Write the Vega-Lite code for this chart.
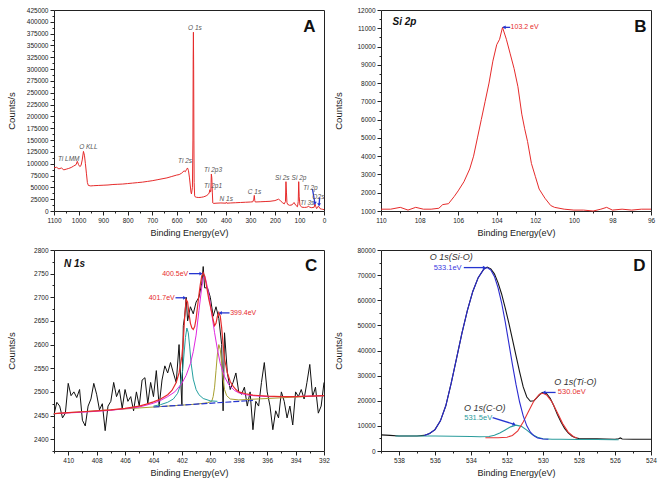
{
  "$schema": "https://vega.github.io/schema/vega-lite/v6.json",
  "background": "white",
  "padding": {"left": 5, "top": 6, "right": 4, "bottom": 2},
  "columns": 2,
  "spacing": {"row": 39, "column": 57},
  "bounds": "flush",
  "datasets": {
    "survey": [
      {"e":1100,"c":91000},{"e":1090,"c":92500},{"e":1080,"c":89000},{"e":1070,"c":91000},{"e":1060,"c":87000},{"e":1050,"c":88500},{"e":1040,"c":90000},{"e":1030,"c":92000},{"e":1020,"c":95000},{"e":1010,"c":98000},{"e":1005,"c":105000},{"e":1000,"c":98000},{"e":995,"c":94000},{"e":990,"c":96000},{"e":985,"c":108000},{"e":980,"c":126000},{"e":976,"c":118000},{"e":972,"c":100000},{"e":968,"c":80000},{"e":964,"c":60000},{"e":960,"c":54000},{"e":950,"c":53000},{"e":940,"c":53500},{"e":920,"c":54000},{"e":900,"c":54500},{"e":880,"c":55000},{"e":860,"c":56000},{"e":840,"c":56500},{"e":820,"c":57000},{"e":800,"c":58000},{"e":780,"c":59000},{"e":760,"c":60000},{"e":740,"c":61000},{"e":720,"c":62500},{"e":700,"c":64000},{"e":680,"c":66000},{"e":660,"c":68000},{"e":640,"c":70000},{"e":620,"c":73000},{"e":600,"c":76000},{"e":590,"c":77000},{"e":580,"c":80000},{"e":570,"c":85000},{"e":565,"c":83000},{"e":560,"c":88000},{"e":556,"c":91000},{"e":552,"c":85000},{"e":548,"c":70000},{"e":545,"c":55000},{"e":542,"c":40000},{"e":540,"c":36000},{"e":536,"c":50000},{"e":534,"c":150000},{"e":533,"c":320000},{"e":532,"c":378000},{"e":531,"c":300000},{"e":530,"c":150000},{"e":529,"c":60000},{"e":527,"c":32000},{"e":525,"c":30000},{"e":520,"c":29000},{"e":510,"c":28500},{"e":500,"c":29000},{"e":490,"c":30000},{"e":480,"c":32000},{"e":472,"c":35000},{"e":468,"c":38000},{"e":465,"c":45000},{"e":463,"c":40000},{"e":461,"c":42000},{"e":460,"c":60000},{"e":459,"c":78000},{"e":457,"c":70000},{"e":455,"c":40000},{"e":453,"c":17000},{"e":450,"c":16000},{"e":440,"c":16500},{"e":420,"c":17000},{"e":400,"c":16500},{"e":398,"c":18500},{"e":396,"c":16500},{"e":380,"c":17000},{"e":360,"c":17500},{"e":340,"c":18000},{"e":320,"c":18500},{"e":300,"c":19000},{"e":290,"c":19500},{"e":286,"c":25000},{"e":284,"c":33000},{"e":282,"c":22000},{"e":280,"c":19000},{"e":260,"c":19500},{"e":240,"c":20000},{"e":220,"c":20500},{"e":200,"c":22000},{"e":185,"c":25000},{"e":178,"c":22000},{"e":170,"c":18000},{"e":162,"c":15000},{"e":157,"c":20000},{"e":155,"c":62000},{"e":153,"c":40000},{"e":151,"c":18000},{"e":148,"c":14000},{"e":140,"c":12000},{"e":130,"c":13000},{"e":122,"c":18000},{"e":115,"c":12000},{"e":108,"c":9000},{"e":105,"c":20000},{"e":103,"c":62000},{"e":101,"c":30000},{"e":98,"c":12000},{"e":90,"c":8000},{"e":80,"c":7500},{"e":70,"c":8000},{"e":62,"c":10000},{"e":58,"c":8000},{"e":50,"c":7000},{"e":40,"c":8000},{"e":37,"c":15000},{"e":34,"c":10000},{"e":30,"c":5000},{"e":24,"c":10000},{"e":21,"c":9000},{"e":16,"c":5000},{"e":10,"c":4000},{"e":5,"c":3500},{"e":0,"c":3000}
    ],
    "surveyLabels": [
      {"e":1040,"c":109000,"t":"Ti LMM"},{"e":960,"c":135000,"t":"O KLL"},{"e":526,"c":387000,"t":"O 1s"},{"e":566,"c":106000,"t":"Ti 2s"},{"e":452,"c":87000,"t":"Ti 2p3"},{"e":452,"c":52000,"t":"Ti 2p1"},{"e":398,"c":25000,"t":"N 1s"},{"e":283,"c":41000,"t":"C 1s"},{"e":170,"c":69000,"t":"Si 2s"},{"e":102,"c":69000,"t":"Si 2p"},{"e":55,"c":49500,"t":"Ti 2p"},{"e":68,"c":17500,"t":"Ti 3s"},{"e":38,"c":30000,"t":"O"},{"e":12,"c":30000,"t":"2s"}
    ],
    "surveyArrows": [
      {"e":37,"c":16000,"e2":47,"c2":46500},{"e":20,"c":13000,"e2":17.6,"c2":29000}
    ],
    "si": [
      {"e":110,"c":1100},{"e":109.5,"c":1100},{"e":109,"c":1200},{"e":108.6,"c":1050},{"e":108.2,"c":1200},{"e":107.8,"c":1100},{"e":107.4,"c":1100},{"e":107,"c":1150},{"e":106.8,"c":1350},{"e":106.5,"c":1400},{"e":106.2,"c":1800},{"e":106,"c":2100},{"e":105.7,"c":2600},{"e":105.4,"c":3300},{"e":105.2,"c":4000},{"e":105,"c":5000},{"e":104.8,"c":6000},{"e":104.6,"c":7000},{"e":104.4,"c":8000},{"e":104.2,"c":9200},{"e":104,"c":10100},{"e":103.85,"c":10400},{"e":103.7,"c":11050},{"e":103.5,"c":10400},{"e":103.3,"c":9600},{"e":103.1,"c":8800},{"e":102.9,"c":7800},{"e":102.7,"c":6300},{"e":102.55,"c":5500},{"e":102.4,"c":4800},{"e":102.2,"c":3600},{"e":102,"c":2900},{"e":101.8,"c":2200},{"e":101.5,"c":1700},{"e":101.2,"c":1300},{"e":101,"c":1200},{"e":100.5,"c":1100},{"e":100,"c":1050},{"e":99.5,"c":1050},{"e":99,"c":1000},{"e":98.6,"c":1100},{"e":98.3,"c":1200},{"e":98,"c":1050},{"e":97.5,"c":1100},{"e":97,"c":1050},{"e":96.5,"c":1100},{"e":96,"c":1100}
    ],
    "nraw": [
      {"e":411,"c":2452},{"e":410.8,"c":2478},{"e":410.6,"c":2470},{"e":410.4,"c":2445},{"e":410.2,"c":2455},{"e":410,"c":2518},{"e":409.8,"c":2492},{"e":409.6,"c":2500},{"e":409.4,"c":2488},{"e":409.2,"c":2505},{"e":409,"c":2440},{"e":408.8,"c":2428},{"e":408.6,"c":2470},{"e":408.4,"c":2485},{"e":408.2,"c":2518},{"e":408,"c":2495},{"e":407.8,"c":2462},{"e":407.6,"c":2475},{"e":407.4,"c":2418},{"e":407.2,"c":2470},{"e":407,"c":2480},{"e":406.8,"c":2520},{"e":406.6,"c":2490},{"e":406.4,"c":2505},{"e":406.2,"c":2465},{"e":406,"c":2505},{"e":405.8,"c":2480},{"e":405.6,"c":2490},{"e":405.4,"c":2460},{"e":405.2,"c":2500},{"e":405,"c":2470},{"e":404.8,"c":2525},{"e":404.6,"c":2530},{"e":404.4,"c":2475},{"e":404.2,"c":2520},{"e":404,"c":2490},{"e":403.8,"c":2545},{"e":403.6,"c":2470},{"e":403.4,"c":2525},{"e":403.2,"c":2555},{"e":403,"c":2540},{"e":402.8,"c":2562},{"e":402.6,"c":2540},{"e":402.4,"c":2520},{"e":402.2,"c":2600},{"e":402,"c":2472},{"e":401.9,"c":2640},{"e":401.8,"c":2660},{"e":401.7,"c":2700},{"e":401.6,"c":2650},{"e":401.4,"c":2680},{"e":401.2,"c":2665},{"e":401,"c":2690},{"e":400.8,"c":2700},{"e":400.6,"c":2730},{"e":400.5,"c":2765},{"e":400.4,"c":2720},{"e":400.2,"c":2720},{"e":400,"c":2700},{"e":399.8,"c":2660},{"e":399.6,"c":2680},{"e":399.4,"c":2655},{"e":399.2,"c":2600},{"e":399.1,"c":2460},{"e":399,"c":2625},{"e":398.8,"c":2540},{"e":398.6,"c":2505},{"e":398.4,"c":2520},{"e":398.2,"c":2540},{"e":398,"c":2500},{"e":397.8,"c":2495},{"e":397.6,"c":2510},{"e":397.4,"c":2470},{"e":397.2,"c":2500},{"e":397,"c":2420},{"e":396.8,"c":2480},{"e":396.6,"c":2470},{"e":396.4,"c":2520},{"e":396.2,"c":2562},{"e":396,"c":2500},{"e":395.8,"c":2470},{"e":395.6,"c":2420},{"e":395.4,"c":2460},{"e":395.2,"c":2445},{"e":395,"c":2500},{"e":394.8,"c":2480},{"e":394.6,"c":2445},{"e":394.4,"c":2470},{"e":394.2,"c":2430},{"e":394,"c":2500},{"e":393.8,"c":2490},{"e":393.6,"c":2505},{"e":393.4,"c":2485},{"e":393.2,"c":2520},{"e":393,"c":2558},{"e":392.8,"c":2490},{"e":392.6,"c":2510},{"e":392.4,"c":2455},{"e":392.2,"c":2470},{"e":392,"c":2520}
    ],
    "nolive": [
      {"e":411,"c":2454},{"e":405,"c":2466},{"e":402,"c":2472},{"e":401,"c":2474},{"e":400.2,"c":2477},{"e":399.9,"c":2480},{"e":399.8,"c":2490},{"e":399.7,"c":2510},{"e":399.6,"c":2545},{"e":399.5,"c":2580},{"e":399.4,"c":2600},{"e":399.3,"c":2590},{"e":399.2,"c":2560},{"e":399.1,"c":2528},{"e":399,"c":2505},{"e":398.85,"c":2492},{"e":398.6,"c":2485},{"e":398,"c":2483},{"e":396,"c":2486},{"e":394,"c":2489},{"e":392,"c":2492}
    ],
    "nbase": [
      {"e":404,"c":2468},{"e":397,"c":2482}
    ],
    "ncyan": [
      {"e":404,"c":2470},{"e":403.5,"c":2473},{"e":403,"c":2478},{"e":402.6,"c":2485},{"e":402.3,"c":2497},{"e":402.1,"c":2515},{"e":401.95,"c":2545},{"e":401.85,"c":2580},{"e":401.75,"c":2615},{"e":401.65,"c":2635},{"e":401.55,"c":2625},{"e":401.45,"c":2595},{"e":401.35,"c":2560},{"e":401.2,"c":2527},{"e":401,"c":2505},{"e":400.8,"c":2494},{"e":400.5,"c":2486},{"e":400,"c":2481},{"e":399.5,"c":2480}
    ],
    "nmag": [
      {"e":411,"c":2454},{"e":409,"c":2457},{"e":407,"c":2461},{"e":405,"c":2468},{"e":404,"c":2476},{"e":403.5,"c":2482},{"e":403,"c":2490},{"e":402.5,"c":2500},{"e":402,"c":2518},{"e":401.7,"c":2535},{"e":401.4,"c":2560},{"e":401.2,"c":2585},{"e":401,"c":2620},{"e":400.8,"c":2672},{"e":400.6,"c":2722},{"e":400.5,"c":2740},{"e":400.4,"c":2745},{"e":400.3,"c":2735},{"e":400.1,"c":2705},{"e":399.9,"c":2665},{"e":399.7,"c":2625},{"e":399.5,"c":2590},{"e":399.3,"c":2560},{"e":399,"c":2532},{"e":398.7,"c":2515},{"e":398.3,"c":2503},{"e":398,"c":2498},{"e":397.5,"c":2494},{"e":397,"c":2492},{"e":396,"c":2490},{"e":394,"c":2490},{"e":392,"c":2492}
    ],
    "nfit": [
      {"e":411,"c":2454},{"e":410,"c":2456},{"e":409,"c":2458},{"e":408,"c":2460},{"e":407,"c":2462},{"e":406,"c":2465},{"e":405,"c":2470},{"e":404.5,"c":2474},{"e":404,"c":2479},{"e":403.5,"c":2485},{"e":403,"c":2494},{"e":402.7,"c":2503},{"e":402.4,"c":2520},{"e":402.2,"c":2540},{"e":402,"c":2575},{"e":401.9,"c":2610},{"e":401.8,"c":2660},{"e":401.7,"c":2695},{"e":401.6,"c":2690},{"e":401.5,"c":2665},{"e":401.4,"c":2645},{"e":401.3,"c":2635},{"e":401.2,"c":2632},{"e":401.1,"c":2638},{"e":401,"c":2655},{"e":400.9,"c":2680},{"e":400.8,"c":2705},{"e":400.7,"c":2728},{"e":400.6,"c":2745},{"e":400.5,"c":2752},{"e":400.4,"c":2745},{"e":400.3,"c":2730},{"e":400.2,"c":2712},{"e":400.1,"c":2695},{"e":400,"c":2682},{"e":399.9,"c":2668},{"e":399.8,"c":2652},{"e":399.7,"c":2640},{"e":399.6,"c":2645},{"e":399.5,"c":2660},{"e":399.4,"c":2668},{"e":399.3,"c":2660},{"e":399.2,"c":2635},{"e":399.1,"c":2600},{"e":399,"c":2570},{"e":398.8,"c":2540},{"e":398.6,"c":2522},{"e":398.4,"c":2512},{"e":398.2,"c":2505},{"e":398,"c":2500},{"e":397.5,"c":2496},{"e":397,"c":2493},{"e":396,"c":2491},{"e":395,"c":2490},{"e":394,"c":2490},{"e":393,"c":2491},{"e":392,"c":2492}
    ],
    "nLabels": [
      {"e":401.55,"c":2750,"t":"400.5eV","a":"r"},{"e":402.5,"c":2699,"t":"401.7eV","a":"r"}
    ],
    "nArrowsR": [
      {"e":400.65,"c":2750,"e2":401.5,"c2":2750},{"e":401.8,"c":2699,"e2":402.45,"c2":2699}
    ],
    "nArrowsL": [
      {"e":399.3,"c":2667,"e2":398.65,"c2":2667}
    ],
    "oenv": [
      {"e":539,"c":6400},{"e":538.5,"c":6200},{"e":538,"c":6000},{"e":537.5,"c":6000},{"e":537,"c":6000},{"e":536.6,"c":6200},{"e":536.3,"c":7000},{"e":536,"c":8500},{"e":535.7,"c":12000},{"e":535.4,"c":18000},{"e":535.1,"c":27000},{"e":534.8,"c":37000},{"e":534.5,"c":47000},{"e":534.2,"c":56000},{"e":533.9,"c":63500},{"e":533.6,"c":69000},{"e":533.3,"c":72300},{"e":533.1,"c":73200},{"e":532.9,"c":72500},{"e":532.7,"c":70500},{"e":532.5,"c":67000},{"e":532.3,"c":62500},{"e":532.1,"c":57000},{"e":531.9,"c":51000},{"e":531.7,"c":44500},{"e":531.5,"c":38000},{"e":531.3,"c":31500},{"e":531.1,"c":25500},{"e":530.9,"c":21500},{"e":530.7,"c":19800},{"e":530.5,"c":20000},{"e":530.3,"c":21500},{"e":530.1,"c":23000},{"e":530,"c":23300},{"e":529.8,"c":22800},{"e":529.6,"c":21000},{"e":529.4,"c":18000},{"e":529.2,"c":14500},{"e":529,"c":11500},{"e":528.8,"c":9000},{"e":528.6,"c":7200},{"e":528.4,"c":6000},{"e":528.2,"c":5300},{"e":528,"c":5000},{"e":527.5,"c":4900},{"e":527,"c":4850},{"e":526.5,"c":4800},{"e":526,"c":4700},{"e":525.8,"c":4850},{"e":525.7,"c":5200},{"e":525.6,"c":4800},{"e":525,"c":4700},{"e":524.5,"c":4650},{"e":524,"c":4650}
    ],
    "osio": [
      {"e":536.6,"c":6200},{"e":536.3,"c":7000},{"e":536,"c":8500},{"e":535.7,"c":12000},{"e":535.4,"c":18000},{"e":535.1,"c":27000},{"e":534.8,"c":37000},{"e":534.5,"c":47000},{"e":534.2,"c":56000},{"e":533.9,"c":63500},{"e":533.6,"c":69000},{"e":533.3,"c":72300},{"e":533.1,"c":73000},{"e":532.9,"c":72000},{"e":532.7,"c":69500},{"e":532.5,"c":65000},{"e":532.3,"c":59000},{"e":532.1,"c":51500},{"e":531.9,"c":43000},{"e":531.7,"c":34500},{"e":531.5,"c":26500},{"e":531.3,"c":19500},{"e":531.1,"c":14000},{"e":530.9,"c":10000},{"e":530.7,"c":7500},{"e":530.5,"c":6000},{"e":530.3,"c":5200},{"e":530,"c":4800},{"e":529.7,"c":4700}
    ],
    "oco": [
      {"e":538.2,"c":6000},{"e":537,"c":6000},{"e":536,"c":6000},{"e":535,"c":5900},{"e":534,"c":5800},{"e":533.5,"c":5700},{"e":533,"c":5800},{"e":532.7,"c":6300},{"e":532.4,"c":7200},{"e":532.1,"c":8400},{"e":531.8,"c":9600},{"e":531.5,"c":10300},{"e":531.2,"c":9800},{"e":530.9,"c":8300},{"e":530.6,"c":6600},{"e":530.3,"c":5500},{"e":530,"c":4900},{"e":529.5,"c":4700},{"e":529,"c":4650},{"e":528,"c":4600},{"e":527,"c":4550},{"e":526,"c":4500},{"e":525.8,"c":4500}
    ],
    "otio": [
      {"e":533.2,"c":5300},{"e":532.5,"c":5300},{"e":532,"c":5500},{"e":531.7,"c":6200},{"e":531.4,"c":8000},{"e":531.1,"c":11500},{"e":530.8,"c":15800},{"e":530.5,"c":20000},{"e":530.2,"c":22600},{"e":530,"c":23000},{"e":529.8,"c":22300},{"e":529.5,"c":19500},{"e":529.2,"c":15200},{"e":528.9,"c":10800},{"e":528.6,"c":7500},{"e":528.3,"c":5700},{"e":528.1,"c":5200}
    ],
    "oNames": [
      {"e":535.1,"c":77100,"t":"O 1s(Si-O)"},{"e":528.2,"c":27600,"t":"O 1s(Ti-O)"},{"e":533.24,"c":17300,"t":"O 1s(C-O)"}
    ]
  },
  "concat": [
    {
      "width": 270, "height": 201,
      "encoding": {
        "x": {"field": "e", "type": "quantitative", "title": "Binding Energy(eV)",
          "scale": {"domain": [0, 1100], "reverse": true, "nice": false, "zero": false},
          "axis": {"values": [0,50,100,150,200,250,300,350,400,450,500,550,600,650,700,750,800,850,900,950,1000,1050,1100], "format": "d",
            "labelExpr": "datum.value % 100 === 0 ? datum.label : ''",
            "tickSize": {"condition": {"test": "datum.value % 100 === 0", "value": 4}, "value": 2}}},
        "y": {"field": "c", "type": "quantitative", "title": "Counts/s",
          "scale": {"domain": [0, 425000], "nice": false},
          "axis": {"values": [0,12500,25000,37500,50000,62500,75000,87500,100000,112500,125000,137500,150000,162500,175000,187500,200000,212500,225000,237500,250000,262500,275000,287500,300000,312500,325000,337500,350000,362500,375000,387500,400000,412500,425000], "format": "d",
            "labelExpr": "datum.value % 25000 === 0 ? datum.label : ''",
            "tickSize": {"condition": {"test": "datum.value % 25000 === 0", "value": 4}, "value": 2}}}
      },
      "layer": [
        {"data": {"name": "survey"}, "mark": {"type": "line", "color": "#e62b2b", "strokeWidth": 1}},
        {"data": {"name": "surveyArrows"}, "mark": {"type": "rule", "color": "#2535d0", "strokeWidth": 1.3},
          "encoding": {"x2": {"field": "e2"}, "y2": {"field": "c2"}}},
        {"data": {"name": "surveyArrows"}, "mark": {"type": "point", "shape": "triangle-down", "filled": true, "color": "#2535d0", "size": 14, "opacity": 1}},
        {"data": {"name": "surveyLabels"}, "mark": {"type": "text", "font": "Liberation Sans", "fontStyle": "italic", "fontSize": 6.5, "color": "#555555"},
          "encoding": {"text": {"field": "t"}}},
        {"data": {"values": [{"e": 60, "c": 390000, "t": "A"}]}, "mark": {"type": "text", "font": "Liberation Sans", "fontWeight": "bold", "fontSize": 17, "color": "#111111"},
          "encoding": {"text": {"field": "t"}}}
      ]
    },
    {
      "width": 270, "height": 201,
      "encoding": {
        "x": {"field": "e", "type": "quantitative", "title": "Binding Energy(eV)",
          "scale": {"domain": [96, 110], "reverse": true, "nice": false, "zero": false},
          "axis": {"values": [96,97,98,99,100,101,102,103,104,105,106,107,108,109,110], "format": "d",
            "labelExpr": "datum.value % 2 === 0 ? datum.label : ''",
            "tickSize": {"condition": {"test": "datum.value % 2 === 0", "value": 4}, "value": 2}}},
        "y": {"field": "c", "type": "quantitative", "title": "Counts/s",
          "scale": {"domain": [1000, 12000], "nice": false, "zero": false},
          "axis": {"values": [1000,1500,2000,2500,3000,3500,4000,4500,5000,5500,6000,6500,7000,7500,8000,8500,9000,9500,10000,10500,11000,11500,12000], "format": "d",
            "labelExpr": "datum.value % 1000 === 0 ? datum.label : ''",
            "tickSize": {"condition": {"test": "datum.value % 1000 === 0", "value": 4}, "value": 2}}}
      },
      "layer": [
        {"data": {"name": "si"}, "mark": {"type": "line", "color": "#e62b2b", "strokeWidth": 1}},
        {"data": {"values": [{"e": 103.68, "c": 11050, "e2": 103.3, "c2": 11050}]}, "mark": {"type": "rule", "color": "#2535d0", "strokeWidth": 1.3},
          "encoding": {"x2": {"field": "e2"}, "y2": {"field": "c2"}}},
        {"data": {"values": [{"e": 103.62, "c": 11050}]}, "mark": {"type": "point", "shape": "triangle-left", "filled": true, "color": "#2535d0", "size": 14, "opacity": 1}},
        {"data": {"values": [{"e": 103.28, "c": 11050, "t": "103.2 eV"}]}, "mark": {"type": "text", "align": "left", "font": "Liberation Sans", "fontSize": 7, "color": "#e62b2b"},
          "encoding": {"text": {"field": "t"}}},
        {"data": {"values": [{"e": 109.4, "c": 11330, "t": "Si 2p"}]}, "mark": {"type": "text", "align": "left", "font": "Liberation Sans", "fontWeight": "bold", "fontStyle": "italic", "fontSize": 10, "color": "#111111"},
          "encoding": {"text": {"field": "t"}}},
        {"data": {"values": [{"e": 96.55, "c": 11050, "t": "B"}]}, "mark": {"type": "text", "font": "Liberation Sans", "fontWeight": "bold", "fontSize": 17, "color": "#111111"},
          "encoding": {"text": {"field": "t"}}}
      ]
    },
    {
      "width": 270, "height": 201,
      "encoding": {
        "x": {"field": "e", "type": "quantitative", "title": "Binding Energy(eV)",
          "scale": {"domain": [392, 411], "reverse": true, "nice": false, "zero": false},
          "axis": {"values": [392,393,394,395,396,397,398,399,400,401,402,403,404,405,406,407,408,409,410,411], "format": "d",
            "labelExpr": "datum.value % 2 === 0 ? datum.label : ''",
            "tickSize": {"condition": {"test": "datum.value % 2 === 0", "value": 4}, "value": 2}}},
        "y": {"field": "c", "type": "quantitative", "title": "Counts/s",
          "scale": {"domain": [2375, 2800], "nice": false, "zero": false},
          "axis": {"values": [2375,2400,2425,2450,2475,2500,2525,2550,2575,2600,2625,2650,2675,2700,2725,2750,2775,2800], "format": "d",
            "labelExpr": "datum.value % 50 === 0 ? datum.label : ''",
            "tickSize": {"condition": {"test": "datum.value % 50 === 0", "value": 4}, "value": 2}}}
      },
      "layer": [
        {"data": {"name": "nraw"}, "mark": {"type": "line", "color": "#111111", "strokeWidth": 1}},
        {"data": {"name": "nolive"}, "mark": {"type": "line", "color": "#a8a030", "strokeWidth": 1}},
        {"data": {"name": "nbase"}, "mark": {"type": "line", "color": "#2535d0", "strokeWidth": 1.2, "strokeDash": [6, 2]}},
        {"data": {"name": "ncyan"}, "mark": {"type": "line", "color": "#24a0a0", "strokeWidth": 1}},
        {"data": {"name": "nmag"}, "mark": {"type": "line", "color": "#e028e0", "strokeWidth": 1}},
        {"data": {"name": "nfit"}, "mark": {"type": "line", "color": "#e62b2b", "strokeWidth": 1.2}},
        {"data": {"name": "nArrowsR"}, "mark": {"type": "rule", "color": "#2535d0", "strokeWidth": 1.3},
          "encoding": {"x2": {"field": "e2"}, "y2": {"field": "c2"}}},
        {"data": {"name": "nArrowsL"}, "mark": {"type": "rule", "color": "#2535d0", "strokeWidth": 1.3},
          "encoding": {"x2": {"field": "e2"}, "y2": {"field": "c2"}}},
        {"data": {"name": "nArrowsR"}, "mark": {"type": "point", "shape": "triangle-right", "filled": true, "color": "#2535d0", "size": 14, "opacity": 1}},
        {"data": {"name": "nArrowsL"}, "mark": {"type": "point", "shape": "triangle-left", "filled": true, "color": "#2535d0", "size": 14, "opacity": 1}},
        {"data": {"name": "nLabels"}, "mark": {"type": "text", "align": "right", "font": "Liberation Sans", "fontSize": 7, "color": "#e62b2b"},
          "encoding": {"text": {"field": "t"}}},
        {"data": {"values": [{"e": 398.6, "c": 2667, "t": "399.4eV"}]}, "mark": {"type": "text", "align": "left", "font": "Liberation Sans", "fontSize": 7, "color": "#e62b2b"},
          "encoding": {"text": {"field": "t"}}},
        {"data": {"values": [{"e": 410.3, "c": 2771, "t": "N 1s"}]}, "mark": {"type": "text", "align": "left", "font": "Liberation Sans", "fontWeight": "bold", "fontStyle": "italic", "fontSize": 10, "color": "#111111"},
          "encoding": {"text": {"field": "t"}}},
        {"data": {"values": [{"e": 392.9, "c": 2766, "t": "C"}]}, "mark": {"type": "text", "font": "Liberation Sans", "fontWeight": "bold", "fontSize": 17, "color": "#111111"},
          "encoding": {"text": {"field": "t"}}}
      ]
    },
    {
      "width": 270, "height": 201,
      "encoding": {
        "x": {"field": "e", "type": "quantitative", "title": "Binding Energy(eV)",
          "scale": {"domain": [524, 539], "reverse": true, "nice": false, "zero": false},
          "axis": {"values": [524,525,526,527,528,529,530,531,532,533,534,535,536,537,538,539], "format": "d",
            "labelExpr": "datum.value % 2 === 0 ? datum.label : ''",
            "tickSize": {"condition": {"test": "datum.value % 2 === 0", "value": 4}, "value": 2}}},
        "y": {"field": "c", "type": "quantitative", "title": "Counts/s",
          "scale": {"domain": [0, 80000], "nice": false},
          "axis": {"values": [0,5000,10000,15000,20000,25000,30000,35000,40000,45000,50000,55000,60000,65000,70000,75000,80000], "format": "d",
            "labelExpr": "datum.value % 10000 === 0 ? datum.label : ''",
            "tickSize": {"condition": {"test": "datum.value % 10000 === 0", "value": 4}, "value": 2}}}
      },
      "layer": [
        {"data": {"name": "oenv"}, "mark": {"type": "line", "color": "#151515", "strokeWidth": 1.1}},
        {"data": {"name": "oco"}, "mark": {"type": "line", "color": "#2a9c9c", "strokeWidth": 1.1}},
        {"data": {"name": "otio"}, "mark": {"type": "line", "color": "#e63535", "strokeWidth": 1.1}},
        {"data": {"name": "osio"}, "mark": {"type": "line", "color": "#2b2bd0", "strokeWidth": 1.1}},
        {"data": {"values": [{"e": 533.25, "c": 73000, "e2": 534.4, "c2": 73000}, {"e": 529.95, "c": 23300, "e2": 529.3, "c2": 23300}, {"e": 531.6, "c": 10600, "e2": 532.8, "c2": 13300}]},
          "mark": {"type": "rule", "color": "#2535d0", "strokeWidth": 1.3},
          "encoding": {"x2": {"field": "e2"}, "y2": {"field": "c2"}}},
        {"data": {"values": [{"e": 533.25, "c": 73000}]}, "mark": {"type": "point", "shape": "triangle-right", "filled": true, "color": "#2535d0", "size": 14, "opacity": 1}},
        {"data": {"values": [{"e": 529.95, "c": 23300}]}, "mark": {"type": "point", "shape": "triangle-left", "filled": true, "color": "#2535d0", "size": 14, "opacity": 1}},
        {"data": {"values": [{"e": 531.6, "c": 10600}]}, "mark": {"type": "point", "shape": "triangle-right", "angle": 25, "filled": true, "color": "#2535d0", "size": 14, "opacity": 1}},
        {"data": {"name": "oNames"}, "mark": {"type": "text", "font": "Liberation Sans", "fontStyle": "italic", "fontSize": 9, "color": "#333333"},
          "encoding": {"text": {"field": "t"}}},
        {"data": {"values": [{"e": 535.3, "c": 72800, "t": "533.1eV"}]}, "mark": {"type": "text", "font": "Liberation Sans", "fontSize": 7.5, "color": "#3a3ae0"},
          "encoding": {"text": {"field": "t"}}},
        {"data": {"values": [{"e": 528.4, "c": 23300, "t": "530.0eV"}]}, "mark": {"type": "text", "font": "Liberation Sans", "fontSize": 7.5, "color": "#e63535"},
          "encoding": {"text": {"field": "t"}}},
        {"data": {"values": [{"e": 533.6, "c": 13300, "t": "531.5eV"}]}, "mark": {"type": "text", "font": "Liberation Sans", "fontSize": 7.5, "color": "#2a9c9c"},
          "encoding": {"text": {"field": "t"}}},
        {"data": {"values": [{"e": 524.65, "c": 73750, "t": "D"}]}, "mark": {"type": "text", "font": "Liberation Sans", "fontWeight": "bold", "fontSize": 17, "color": "#111111"},
          "encoding": {"text": {"field": "t"}}}
      ]
    }
  ],
  "config": {
    "view": {"stroke": "#222222", "strokeWidth": 1},
    "axis": {"grid": false, "domain": false, "labelFont": "Liberation Sans", "labelFontSize": 6.5, "labelColor": "#222222", "tickColor": "#222222", "labelOverlap": false, "labelFlush": false, "labelPadding": 2, "titleFont": "Liberation Sans", "titleFontSize": 9, "titleFontWeight": "normal", "titleColor": "#222222"},
    "axisX": {"titlePadding": 5},
    "axisY": {"titleX": -38, "titleFontSize": 9.5}
  }
}
